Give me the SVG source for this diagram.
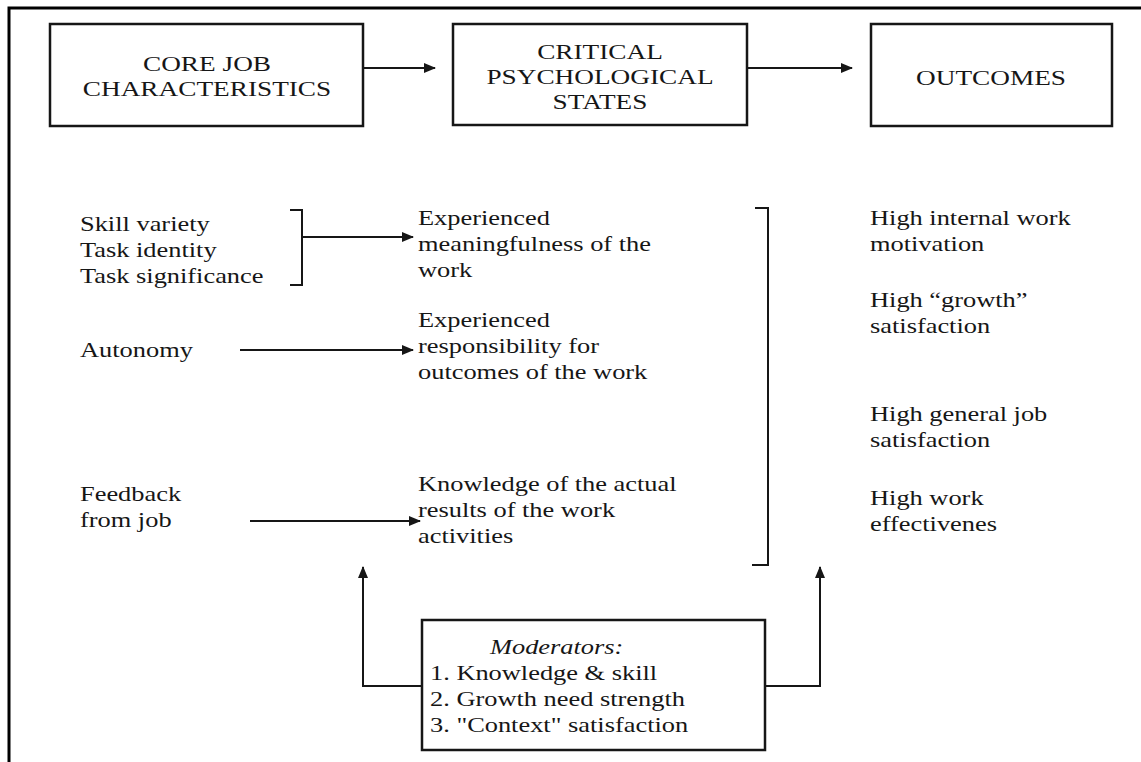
<svg xmlns="http://www.w3.org/2000/svg" width="1141" height="762" viewBox="0 0 1141 762">
<style>
text{font-family:"Liberation Serif","Times New Roman",serif;fill:#161616}
.h{font-size:22px;text-anchor:middle}
.b{font-size:22px}
.i{font-style:italic}
.box{fill:none;stroke:#161616;stroke-width:2.5}
.ln{fill:none;stroke:#161616;stroke-width:2}
</style>
<defs>
<marker id="ah" viewBox="0 0 12 10" refX="11" refY="5" markerWidth="12" markerHeight="10" markerUnits="userSpaceOnUse" orient="auto">
<path d="M0,0 L12,5 L0,10 Z" fill="#161616"/>
</marker>
</defs>
<rect width="1141" height="762" fill="#fff"/>
<path d="M9,762 V8 H1141" fill="none" stroke="#000" stroke-width="3"/>

<g id="core">
<rect class="box" x="50" y="24" width="313" height="102"/>
<text class="h" transform="translate(207 71) scale(1.24 1)">CORE JOB</text>
<text class="h" transform="translate(207 96) scale(1.24 1)">CHARACTERISTICS</text>
</g>
<g id="critical">
<rect class="box" x="453" y="24" width="294" height="101"/>
<text class="h" transform="translate(600 59) scale(1.24 1)">CRITICAL</text>
<text class="h" transform="translate(600 84) scale(1.24 1)">PSYCHOLOGICAL</text>
<text class="h" transform="translate(600 109) scale(1.24 1)">STATES</text>
</g>
<g id="outcomes">
<rect class="box" x="871" y="24" width="241" height="102"/>
<text class="h" transform="translate(991 85) scale(1.24 1)">OUTCOMES</text>
</g>

<g id="skills">
<text class="b" transform="translate(80 231) scale(1.2 1)">Skill variety</text>
<text class="b" transform="translate(80 257) scale(1.2 1)">Task identity</text>
<text class="b" transform="translate(80 283) scale(1.2 1)">Task significance</text>
</g>
<g id="autonomy">
<text class="b" transform="translate(80 357) scale(1.2 1)">Autonomy</text>
</g>
<g id="feedback">
<text class="b" transform="translate(80 501) scale(1.2 1)">Feedback</text>
<text class="b" transform="translate(80 527) scale(1.2 1)">from job</text>
</g>

<g id="meaning">
<text class="b" transform="translate(418 225) scale(1.2 1)">Experienced</text>
<text class="b" transform="translate(418 251) scale(1.2 1)">meaningfulness of the</text>
<text class="b" transform="translate(418 277) scale(1.2 1)">work</text>
</g>
<g id="responsibility">
<text class="b" transform="translate(418 327) scale(1.2 1)">Experienced</text>
<text class="b" transform="translate(418 353) scale(1.2 1)">responsibility for</text>
<text class="b" transform="translate(418 379) scale(1.2 1)">outcomes of the work</text>
</g>
<g id="knowledge">
<text class="b" transform="translate(418 491) scale(1.2 1)">Knowledge of the actual</text>
<text class="b" transform="translate(418 517) scale(1.2 1)">results of the work</text>
<text class="b" transform="translate(418 543) scale(1.2 1)">activities</text>
</g>

<g id="out1">
<text class="b" transform="translate(870 225) scale(1.2 1)">High internal work</text>
<text class="b" transform="translate(870 251) scale(1.2 1)">motivation</text>
</g>
<g id="out2">
<text class="b" transform="translate(870 307) scale(1.2 1)">High “growth”</text>
<text class="b" transform="translate(870 333) scale(1.2 1)">satisfaction</text>
</g>
<g id="out3">
<text class="b" transform="translate(870 421) scale(1.2 1)">High general job</text>
<text class="b" transform="translate(870 447) scale(1.2 1)">satisfaction</text>
</g>
<g id="out4">
<text class="b" transform="translate(870 505) scale(1.2 1)">High work</text>
<text class="b" transform="translate(870 531) scale(1.2 1)">effectivenes</text>
</g>

<g id="moderators">
<rect class="box" x="422" y="620" width="343" height="130"/>
<text class="b i" transform="translate(490 654) scale(1.2 1)">Moderators:</text>
<text class="b" transform="translate(430 680) scale(1.2 1)">1. Knowledge &amp; skill</text>
<text class="b" transform="translate(430 706) scale(1.2 1)">2. Growth need strength</text>
<text class="b" transform="translate(430 732) scale(1.2 1)">3. "Context" satisfaction</text>
</g>

<g id="connectors">
<path class="ln" d="M363,68 H435" marker-end="url(#ah)"/>
<path class="ln" d="M747,68 H852" marker-end="url(#ah)"/>
<path class="ln" d="M290,210 H302 V285 H290"/>
<path class="ln" d="M302,237 H413" marker-end="url(#ah)"/>
<path class="ln" d="M240,350 H413" marker-end="url(#ah)"/>
<path class="ln" d="M250,521 H420" marker-end="url(#ah)"/>
<path class="ln" d="M755,208 H768 V565 H752"/>
<path class="ln" d="M422,686 H363 V567" marker-end="url(#ah)"/>
<path class="ln" d="M765,686 H820 V567" marker-end="url(#ah)"/>
</g>
</svg>
